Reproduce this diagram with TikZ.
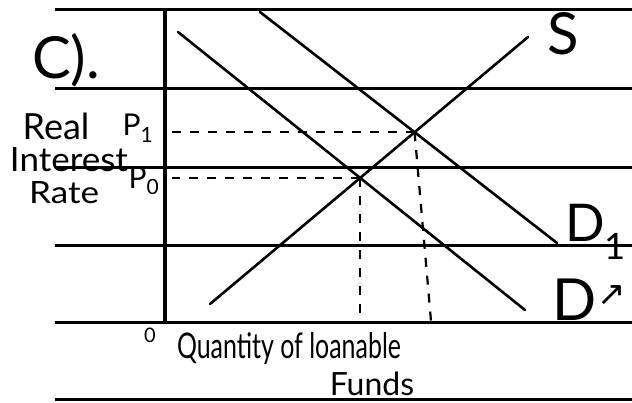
\documentclass[tikz,border=0pt]{standalone}
\usepackage{fontspec}
\usepackage{graphicx}
\setmainfont{Lato}
\newfontfamily\symfont{DejaVu Sans}
\usetikzlibrary{intersections}
\begin{document}
\begin{tikzpicture}[x=1pt,y=-1pt,
  rule/.style={line width=3pt},
  axisline/.style={line width=3.5pt},
  curve/.style={line width=2.6pt, line cap=round},
  guide/.style={line width=2.2pt, dash pattern=on 9pt off 9pt},
  lbl/.style={inner sep=0pt, font=\fontsize{30}{32}\selectfont},
  big/.style={inner sep=0pt, font=\fontsize{58}{60}\selectfont}]
\useasboundingbox (0,0) rectangle (632,402);
\fill[white] (0,0) rectangle (632,402);
% ruled paper lines
\foreach \y in {9,88,167,245,322,399} \draw[rule] (55,\y) -- (632,\y);
% axis
\coordinate (O) at (165,322);
\coordinate (Ytop) at (165,11);
\draw[axisline] (Ytop) -- (O);
% curves
\coordinate (Ds) at (178,32);  \coordinate (De) at (525,310);
\coordinate (D1s) at (260,12); \coordinate (D1e) at (557,243);
\coordinate (Ss) at (210,304); \coordinate (Se) at (528,37);
\draw[curve, name path=dline] (Ds) -- (De);
\draw[curve, name path=d1line] (D1s) -- (D1e);
\draw[curve, name path=sline] (Ss) -- (Se);
\path[name intersections={of=dline and sline, by=E0}];
\path[name intersections={of=d1line and sline, by=E1}];
% guides
\coordinate (Ax) at (172,0);
\coordinate (Q1) at (431,321);
\draw[guide] (E1) -- (E1 -| Ax);
\draw[guide] (E0) -- (E0 -| Ax);
\draw[guide] (E0) -- (E0 |- O);
\draw[guide] (E1) -- (Q1);
% labels
\node[big] (c) at (66,60) {C).};
\node[lbl, font=\fontsize{36}{38}\selectfont] (real) at (56,126) {Real};
\node[lbl] (p1) at (138,128) {P\textsubscript{1}};
\node[lbl] (interest) at (69,160) {\resizebox{118pt}{24pt}{Interest}};
\node[lbl] (rate) at (64,193) {\resizebox{70pt}{22pt}{Rate}};
\node[lbl] (p0) at (144,181) {P\textsubscript{0}};
\node[lbl, font=\fontsize{20}{22}\selectfont] (zero) at (150,335) {0};
\node[lbl] (qty) at (289,349) {\resizebox{224pt}{26pt}{Quantity of loanable}};
\node[lbl, font=\fontsize{32}{34}\selectfont] (funds) at (372,384) {Funds};
\node[big] (slab) at (563,34) {S};
\node[lbl, font=\fontsize{52}{54}\selectfont] (d1lab) at (596,232) {D\textsubscript{1}};
\node[big] (dlab) at (575,300) {D};
\node[lbl, font=\symfont\fontsize{34}{36}\selectfont] (mark) at (612,296) {↗};
\end{tikzpicture}
\end{document}
